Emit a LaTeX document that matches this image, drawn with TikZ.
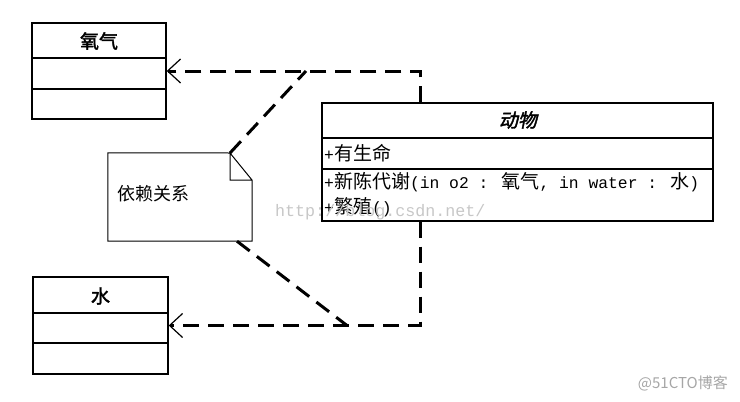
\documentclass[tikz,border=0pt]{standalone}
\usepackage{fontspec}
\setmainfont{Liberation Mono}[Scale=0.86]
\newfontfamily\cjk[AutoFakeBold=2,AutoFakeSlant=0.2]{Noto Sans CJK SC}
\usepackage{xcolor}
\usepackage{tikz}
\usetikzlibrary{calc}
\usetikzlibrary{arrows.meta}

\tikzset{
  kelas/.style={draw, line width=1.4pt, inner sep=0pt},
  sekat/.style={line width=1.4pt},
  teks/.style={font=\fontsize{19}{19}\selectfont, inner sep=0pt},
  garis/.style={line width=3pt, dash pattern=on 16pt off 9pt},
  depend/.style={garis, -{Straight Barb[length=13pt,width=24pt,line width=1.2pt]}},
}

\begin{document}
\begin{tikzpicture}[x=1pt,y=-1pt]
        \useasboundingbox (0,0) rectangle (740,402);
        %OKSIGEN
        \node[kelas, minimum width=134pt, minimum height=96pt] (oksigen) at (99,71) {};
        \node[teks] (oksigen-nama) at (99,41) {\cjk\bfseries 氧气};
        \draw[sekat] (oksigen.west |- 0,58) -- (oksigen.east |- 0,58);
        \draw[sekat] (oksigen.west |- 0,89) -- (oksigen.east |- 0,89);
        %AIR
        \node[kelas, minimum width=135pt, minimum height=97pt] (air) at (100.5,325.5) {};
        \node[teks] (air-nama) at (100.5,296) {\cjk\bfseries 水};
        \draw[sekat] (air.west |- 0,313) -- (air.east |- 0,313);
        \draw[sekat] (air.west |- 0,343) -- (air.east |- 0,343);
        %HEWAN
        \node[kelas, minimum width=391pt, minimum height=118pt] (hewan) at (517.5,162) {};
        \node[teks] (hewan-nama) at (518,120) {\cjk\bfseries\itshape 动物};
        \draw[sekat] (hewan.west |- 0,138) -- (hewan.east |- 0,138);
        \draw[sekat] (hewan.west |- 0,169) -- (hewan.east |- 0,169);
        \node[teks, anchor=west] (hewan-atr) at (324,153) {+{\cjk 有生命}};
        \node[teks, anchor=west] (hewan-op1) at (324,182) {+{\cjk 新陈代谢}(in o2 : {\cjk 氧气}, in water : {\cjk 水})};
        \node[teks, anchor=west] (hewan-op2) at (324,207) {+{\cjk 繁殖}()};
        %CATATAN
        \node[minimum width=144pt, minimum height=88pt, inner sep=0pt] (catatan) at (180,197) {};
        \coordinate (lipat) at (230,153);
        \coordinate (lipat-bawah) at (252,180);
        \draw[line width=1pt] (lipat) -- (catatan.north west) -- (catatan.south west) -- (catatan.south east) -- (lipat-bawah) -- (lipat) -- (lipat |- lipat-bawah) -- (lipat-bawah);
        \node[teks, anchor=west, font=\fontsize{18}{18}\selectfont] (catatan-teks) at (117,194) {\cjk 依赖关系};
        %DEPENDENSI
        \coordinate (cabang-atas) at (306,71);
        \coordinate (cabang-bawah) at (347,325.5);
        \draw[depend] (hewan.north -| 420,0) |- (oksigen.east);
        \draw[depend] (hewan.south -| 420,0) |- (air.east);
        \draw[garis] (lipat) -- (cabang-atas);
        \draw[garis] (catatan.south -| 237,0) -- (cabang-bawah);
        %WATERMARK
        \node[anchor=west, inner sep=0pt, text=black!22, font=\fontsize{19.4}{19.4}\selectfont] (wm-csdn) at (275,212) {http://blog.csdn.net/};
        \node[anchor=east, inner sep=0pt, text=black!35, font=\fontsize{15}{15}\selectfont] (wm-cto) at (728,383) {\cjk @51CTO博客};
    \end{tikzpicture}
\end{document}
